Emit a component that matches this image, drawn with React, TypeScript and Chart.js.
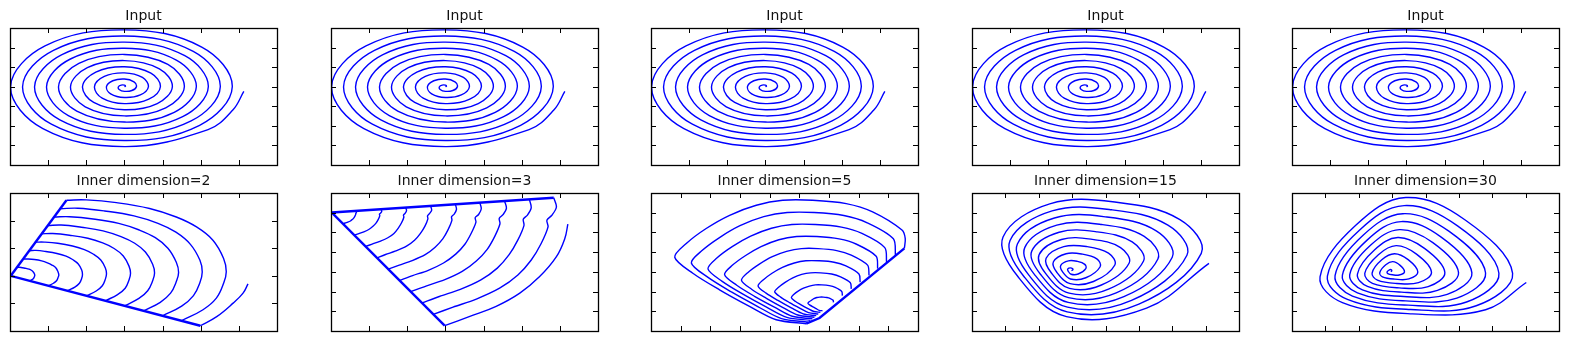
import React, { useEffect, useRef } from "react";
import { Chart, registerables } from "chart.js";

Chart.register(...registerables);

type Pt = [number, number];

// ---------- Input spiral (identical in the 5 top panels) ----------
const INPUT_X_TICKS = [-40, -20, 0, 20, 40, 60];
const INPUT_Y_TICKS = [-60, -40, -20, 0, 20, 40];
const INPUT_SPIRAL: Pt[] = [
  [0, 0], [0.56, 0.56], [0, 1.57], [-1.67, 1.67], [-3.14, 0], [-2.78, -2.78], [0, -4.71], [3.89, -3.89],
  [6.28, 0], [5.0, 5.0], [0, 7.85], [-6.11, 6.11], [-9.42, 0], [-7.22, -7.22], [0, -11.0], [8.33, -8.33],
  [12.57, 0], [9.44, 9.44], [0, 14.14], [-10.55, 10.55], [-15.71, 0], [-11.66, -11.66], [0, -17.28], [12.77, -12.77],
  [18.85, 0], [13.88, 13.88], [0, 20.42], [-15.0, 15.0], [-21.99, 0], [-16.11, -16.11], [0, -23.56], [17.22, -17.22],
  [25.13, 0], [18.33, 18.33], [0, 26.7], [-19.44, 19.44], [-28.27, 0], [-20.55, -20.55], [0, -29.85], [21.66, -21.66],
  [31.42, 0], [22.77, 22.77], [0, 32.99], [-23.88, 23.88], [-34.56, 0], [-24.99, -24.99], [0, -36.13], [26.1, -26.1],
  [37.7, 0], [27.21, 27.21], [0, 39.27], [-28.32, 28.32], [-40.84, 0], [-29.43, -29.43], [0, -42.41], [30.54, -30.54],
  [43.98, 0], [31.65, 31.65], [0, 45.55], [-32.76, 32.76], [-47.12, 0], [-33.87, -33.87], [0, -48.69], [34.98, -34.98],
  [50.27, 0], [36.1, 36.1], [0, 51.84], [-37.21, 37.21], [-53.41, 0], [-38.32, -38.32], [0, -54.98], [39.43, -39.43],
  [56.55, 0], [40.54, 40.54], [0, 58.12], [-41.65, 41.65], [-59.69, 0], [-42.76, -42.76], [0, -61.26], [43.87, -43.87],
  [56.96, -23.59], [62.6, -4.8],
];

// ---------- Inner dimension = 2 ----------
const DIM2_X_TICKS = [1, 2, 3, 4, 5, 6];
const DIM2_Y_TICKS = [1, 2, 3, 4];
const DIM2_EDGES: Pt[][] = [
  [[0.02, 2.0], [1.48, 4.74]],
  [[0.02, 2.0], [4.99, 0.19]],
];
const DIM2_ARCS: Pt[][] = [
  [[0.52, 1.82], [0.58, 1.86], [0.62, 1.91], [0.64, 1.97], [0.65, 2.02], [0.64, 2.07], [0.61, 2.14], [0.56, 2.2], [0.5, 2.24], [0.42, 2.27], [0.33, 2.29], [0.24, 2.31], [0.18, 2.3]],
  [[1.01, 1.64], [1.14, 1.73], [1.22, 1.82], [1.26, 1.94], [1.28, 2.03], [1.26, 2.14], [1.2, 2.29], [1.1, 2.39], [0.98, 2.47], [0.83, 2.54], [0.64, 2.59], [0.46, 2.61], [0.34, 2.61]],
  [[1.51, 1.46], [1.7, 1.59], [1.82, 1.73], [1.88, 1.91], [1.9, 2.05], [1.88, 2.21], [1.79, 2.43], [1.64, 2.59], [1.47, 2.71], [1.23, 2.81], [0.94, 2.88], [0.68, 2.92], [0.51, 2.91]],
  [[2.01, 1.28], [2.26, 1.45], [2.42, 1.64], [2.5, 1.88], [2.53, 2.07], [2.5, 2.28], [2.38, 2.57], [2.18, 2.79], [1.95, 2.95], [1.64, 3.08], [1.25, 3.18], [0.9, 3.22], [0.67, 3.22]],
  [[2.51, 1.1], [2.82, 1.32], [3.02, 1.55], [3.12, 1.85], [3.16, 2.09], [3.12, 2.35], [2.97, 2.72], [2.73, 2.99], [2.43, 3.19], [2.04, 3.36], [1.56, 3.47], [1.12, 3.53], [0.83, 3.52]],
  [[3.0, 0.91], [3.38, 1.18], [3.61, 1.46], [3.74, 1.82], [3.79, 2.1], [3.74, 2.42], [3.55, 2.86], [3.27, 3.18], [2.91, 3.42], [2.44, 3.63], [1.87, 3.76], [1.34, 3.84], [0.99, 3.82]],
  [[3.5, 0.73], [3.94, 1.04], [4.21, 1.37], [4.36, 1.79], [4.42, 2.12], [4.36, 2.49], [4.14, 3.0], [3.81, 3.38], [3.39, 3.66], [2.85, 3.9], [2.18, 4.06], [1.56, 4.14], [1.15, 4.13]],
  [[4.0, 0.55], [4.5, 0.9], [4.81, 1.28], [4.98, 1.76], [5.04, 2.14], [4.98, 2.56], [4.73, 3.14], [4.35, 3.58], [3.88, 3.9], [3.25, 4.17], [2.48, 4.35], [1.78, 4.45], [1.32, 4.43]],
  [[4.49, 0.37], [5.06, 0.77], [5.41, 1.19], [5.6, 1.73], [5.67, 2.15], [5.6, 2.63], [5.32, 3.29], [4.89, 3.77], [4.36, 4.13], [3.66, 4.44], [2.79, 4.65], [2.0, 4.75], [1.48, 4.74]],
];
const DIM2_TAIL: Pt[] = [[4.99, 0.19], [5.42, 0.52], [5.85, 1.01], [6.11, 1.37], [6.24, 1.71]];

// ---------- Inner dimension = 3 ----------
const DIM3_X_TICKS = [1, 2, 3, 4, 5, 6];
const DIM3_Y_TICKS = [1, 2, 3, 4, 5, 6];
const DIM3_EDGES: Pt[][] = [
  [[0.02, 6.01], [5.84, 6.76]],
  [[0.02, 6.01], [2.98, 0.27]],
];
const DIM3_ARCS: Pt[][] = [
  [[0.32, 5.44], [0.37, 5.48], [0.44, 5.52], [0.51, 5.58], [0.56, 5.66], [0.6, 5.74], [0.63, 5.84], [0.65, 5.93], [0.65, 5.97], [0.66, 5.99], [0.67, 6.04], [0.67, 6.09]],
  [[0.61, 4.86], [0.73, 4.94], [0.86, 5.03], [1.0, 5.16], [1.1, 5.31], [1.18, 5.47], [1.24, 5.66], [1.28, 5.85], [1.27, 5.92], [1.3, 5.98], [1.33, 6.07], [1.31, 6.18]],
  [[0.91, 4.29], [1.08, 4.41], [1.28, 4.55], [1.49, 4.73], [1.65, 4.95], [1.76, 5.21], [1.85, 5.49], [1.91, 5.77], [1.9, 5.88], [1.94, 5.96], [1.98, 6.1], [1.96, 6.26]],
  [[1.2, 3.71], [1.43, 3.88], [1.7, 4.06], [1.98, 4.3], [2.19, 4.6], [2.34, 4.94], [2.46, 5.31], [2.54, 5.69], [2.53, 5.84], [2.58, 5.95], [2.64, 6.13], [2.61, 6.34]],
  [[1.5, 3.14], [1.79, 3.34], [2.13, 3.57], [2.47, 3.87], [2.73, 4.25], [2.93, 4.67], [3.07, 5.14], [3.17, 5.61], [3.16, 5.8], [3.23, 5.93], [3.29, 6.17], [3.26, 6.43]],
  [[1.8, 2.57], [2.14, 2.81], [2.55, 3.08], [2.95, 3.45], [3.27, 3.9], [3.51, 4.4], [3.68, 4.97], [3.8, 5.52], [3.78, 5.75], [3.87, 5.91], [3.94, 6.2], [3.9, 6.51]],
  [[2.09, 1.99], [2.49, 2.28], [2.97, 2.59], [3.44, 3.02], [3.81, 3.55], [4.09, 4.13], [4.29, 4.79], [4.43, 5.44], [4.41, 5.71], [4.51, 5.9], [4.6, 6.23], [4.55, 6.59]],
  [[2.39, 1.42], [2.84, 1.75], [3.39, 2.11], [3.93, 2.59], [4.36, 3.19], [4.67, 3.87], [4.9, 4.62], [5.06, 5.36], [5.04, 5.67], [5.15, 5.88], [5.25, 6.26], [5.2, 6.67]],
  [[2.68, 0.84], [3.2, 1.21], [3.81, 1.62], [4.42, 2.17], [4.9, 2.84], [5.25, 3.6], [5.51, 4.44], [5.69, 5.28], [5.66, 5.62], [5.79, 5.87], [5.91, 6.29], [5.84, 6.76]],
];
const DIM3_TAIL: Pt[] = [[2.98, 0.27], [3.64, 0.74], [4.33, 1.25], [4.95, 1.92], [5.47, 2.76], [5.91, 3.77], [6.13, 4.69], [6.21, 5.42]];

// ---------- Inner dimension = 5 ----------
const DIM5_X_TICKS = [1, 2, 3, 4, 5, 6, 7, 8];
const DIM5_Y_TICKS = [1, 2, 3, 4, 5, 6];
const DIM5_EDGE: Pt[] = [[5.23, 0.37], [5.68, 0.66], [8.54, 4.19]];
const DIM5_LOOPS: Pt[][] = [
  [[6.15, 1.45], [6.14, 1.56], [6.03, 1.66], [5.93, 1.7], [5.81, 1.72], [5.69, 1.72], [5.59, 1.7], [5.49, 1.64], [5.41, 1.56], [5.33, 1.48], [5.29, 1.4], [5.36, 1.31], [5.46, 1.22], [5.57, 1.13], [5.67, 1.05], [5.78, 1.03]],
  [[6.45, 1.79], [6.43, 2.0], [6.21, 2.21], [6.01, 2.3], [5.76, 2.34], [5.54, 2.34], [5.34, 2.28], [5.14, 2.17], [4.96, 2.02], [4.81, 1.85], [4.73, 1.69], [4.86, 1.51], [5.06, 1.33], [5.29, 1.14], [5.49, 0.99], [5.71, 0.95]],
  [[6.75, 2.14], [6.72, 2.45], [6.39, 2.75], [6.09, 2.89], [5.72, 2.95], [5.38, 2.95], [5.08, 2.87], [4.78, 2.7], [4.52, 2.47], [4.3, 2.22], [4.17, 1.99], [4.37, 1.72], [4.67, 1.44], [5.01, 1.16], [5.31, 0.93], [5.64, 0.86]],
  [[7.05, 2.48], [7.01, 2.89], [6.57, 3.3], [6.17, 3.49], [5.67, 3.56], [5.22, 3.56], [4.83, 3.45], [4.43, 3.23], [4.08, 2.93], [3.78, 2.59], [3.61, 2.28], [3.88, 1.92], [4.28, 1.55], [4.73, 1.17], [5.13, 0.87], [5.57, 0.78]],
  [[7.35, 2.82], [7.3, 3.34], [6.75, 3.85], [6.26, 4.08], [5.63, 4.18], [5.07, 4.18], [4.57, 4.04], [4.07, 3.76], [3.64, 3.38], [3.26, 2.96], [3.05, 2.57], [3.39, 2.12], [3.89, 1.66], [4.45, 1.19], [4.95, 0.81], [5.51, 0.7]],
  [[7.64, 3.16], [7.59, 3.79], [6.93, 4.4], [6.34, 4.67], [5.59, 4.79], [4.91, 4.79], [4.31, 4.63], [3.71, 4.28], [3.19, 3.83], [2.74, 3.33], [2.48, 2.86], [2.89, 2.32], [3.49, 1.76], [4.16, 1.21], [4.76, 0.75], [5.44, 0.62]],
  [[7.94, 3.5], [7.88, 4.23], [7.11, 4.95], [6.42, 5.27], [5.54, 5.4], [4.75, 5.4], [4.06, 5.21], [3.36, 4.81], [2.75, 4.29], [2.22, 3.7], [1.92, 3.15], [2.4, 2.52], [3.1, 1.87], [3.88, 1.22], [4.58, 0.69], [5.37, 0.54]],
  [[8.24, 3.85], [8.17, 4.68], [7.29, 5.49], [6.5, 5.86], [5.5, 6.01], [4.59, 6.01], [3.8, 5.8], [3.0, 5.34], [2.31, 4.74], [1.71, 4.07], [1.36, 3.45], [1.91, 2.73], [2.71, 1.98], [3.6, 1.24], [4.4, 0.63], [5.3, 0.45]],
  [[8.54, 4.19], [8.57, 4.69], [8.46, 5.12], [7.47, 6.04], [6.58, 6.46], [5.45, 6.63], [4.44, 6.63], [3.55, 6.38], [2.65, 5.87], [1.86, 5.2], [1.19, 4.44], [0.8, 3.74], [1.41, 2.93], [2.31, 2.09], [3.32, 1.25], [4.22, 0.57], [5.23, 0.37]],
];

// ---------- Inner dimension = 15 ----------
const DIM15_X_TICKS = [1, 2, 3, 4, 5, 6, 7];
const DIM15_Y_TICKS = [1, 2, 3, 4, 5, 6];
const DIM15_SPIRAL: Pt[] = [
  [2.98, 3.06], [3.02, 3.1], [3.02, 3.15], [2.95, 3.2], [2.87, 3.15], [2.88, 3.04], [2.97, 2.88], [3.18, 2.89],
  [3.41, 3.16], [3.38, 3.38], [3.16, 3.53], [2.89, 3.56], [2.66, 3.33], [2.71, 3.01], [2.95, 2.64], [3.41, 2.7],
  [3.84, 3.26], [3.74, 3.66], [3.31, 3.9], [2.82, 3.92], [2.44, 3.51], [2.54, 2.98], [2.94, 2.4], [3.64, 2.51],
  [4.28, 3.35], [4.09, 3.95], [3.45, 4.28], [2.75, 4.28], [2.22, 3.69], [2.38, 2.94], [2.92, 2.16], [3.86, 2.32],
  [4.71, 3.45], [4.45, 4.23], [3.6, 4.65], [2.68, 4.64], [2.01, 3.87], [2.21, 2.91], [2.91, 1.92], [4.09, 2.12],
  [5.14, 3.55], [4.8, 4.52], [3.75, 5.03], [2.61, 5.01], [1.79, 4.05], [2.05, 2.88], [2.89, 1.69], [4.32, 1.93],
  [5.57, 3.65], [5.16, 4.8], [3.89, 5.4], [2.54, 5.37], [1.58, 4.23], [1.88, 2.85], [2.88, 1.45], [4.55, 1.74],
  [6.0, 3.74], [5.52, 5.08], [4.04, 5.78], [2.47, 5.73], [1.36, 4.41], [1.71, 2.82], [2.86, 1.21], [4.78, 1.55],
  [6.44, 3.84], [5.87, 5.37], [4.18, 6.15], [2.4, 6.09], [1.14, 4.59], [1.55, 2.78], [2.85, 0.97], [5.0, 1.36],
  [6.87, 3.94], [6.23, 5.65], [4.33, 6.53], [2.33, 6.45], [0.93, 4.77], [1.38, 2.75], [2.83, 0.73], [5.23, 1.16],
  [7.1, 3.43],
];

// ---------- Inner dimension = 30 ----------
const DIM30_X_TICKS = [1, 2, 3, 4, 5, 6, 7];
const DIM30_Y_TICKS = [1, 2, 3, 4, 5, 6];
const DIM30_SPIRAL: Pt[] = [
  [2.96, 3.01], [2.99, 3.05], [2.97, 3.11], [2.92, 3.1], [2.85, 3.0], [2.87, 2.91], [3.01, 2.85], [3.21, 2.84],
  [3.37, 3.0], [3.24, 3.33], [3.02, 3.52], [2.81, 3.36], [2.63, 2.97], [2.71, 2.75], [3.08, 2.63], [3.5, 2.64],
  [3.77, 2.99], [3.48, 3.62], [3.07, 3.92], [2.69, 3.61], [2.4, 2.94], [2.56, 2.58], [3.14, 2.41], [3.79, 2.45],
  [4.18, 2.98], [3.73, 3.9], [3.12, 4.33], [2.58, 3.86], [2.18, 2.92], [2.41, 2.42], [3.21, 2.19], [4.08, 2.25],
  [4.58, 2.97], [3.97, 4.19], [3.17, 4.74], [2.47, 4.11], [1.96, 2.89], [2.26, 2.26], [3.28, 1.97], [4.36, 2.06],
  [4.99, 2.96], [4.22, 4.48], [3.22, 5.14], [2.36, 4.36], [1.73, 2.86], [2.11, 2.09], [3.35, 1.75], [4.65, 1.86],
  [5.39, 2.95], [4.47, 4.76], [3.27, 5.55], [2.25, 4.61], [1.51, 2.83], [1.96, 1.93], [3.41, 1.53], [4.94, 1.67],
  [5.8, 2.94], [4.71, 5.05], [3.32, 5.95], [2.13, 4.86], [1.29, 2.81], [1.81, 1.77], [3.48, 1.31], [5.23, 1.47],
  [6.2, 2.93], [4.96, 5.33], [3.36, 6.36], [2.02, 5.11], [1.06, 2.78], [1.66, 1.6], [3.55, 1.09], [5.52, 1.28],
  [6.61, 2.92], [5.2, 5.62], [3.41, 6.77], [1.91, 5.36], [0.84, 2.75], [1.51, 1.44], [3.61, 0.87], [5.8, 1.08],
  [7.02, 2.46],
];

// ---------- layout ----------
const BLUE = "#0000ff";
const PANEL_LEFTS = [10, 331, 651, 972, 1292];
const ROW_TOPS = [28, 193];
const AX_W = 267;
const AX_H = [137, 138];
const PAD = 3;
const TITLE_H = 21;

interface Curve { pts: Pt[]; width: number; tension: number }
interface Spec {
  title: string;
  x: [number, number];
  y: [number, number];
  xTicks: number[];
  yTicks: number[];
  curves: Curve[];
}

const thin = (pts: Pt[], tension = 0.4): Curve => ({ pts, width: 1.4, tension });
const edge = (pts: Pt[]): Curve => ({ pts, width: 2.4, tension: 0 });

const INPUT_SPEC: Spec = {
  title: "Input", x: [-60, 80], y: [-80, 60], xTicks: INPUT_X_TICKS, yTicks: INPUT_Y_TICKS,
  curves: [thin(INPUT_SPIRAL, 0.38)],
};

const BOTTOM_SPECS: Spec[] = [
  {
    title: "Inner dimension=2", x: [0, 7], y: [0, 5], xTicks: DIM2_X_TICKS, yTicks: DIM2_Y_TICKS,
    curves: [...DIM2_EDGES.map(edge), ...DIM2_ARCS.map((a) => thin(a)), thin(DIM2_TAIL)],
  },
  {
    title: "Inner dimension=3", x: [0, 7], y: [0, 7], xTicks: DIM3_X_TICKS, yTicks: DIM3_Y_TICKS,
    curves: [...DIM3_EDGES.map(edge), ...DIM3_ARCS.map((a) => thin(a, 0.3)), thin(DIM3_TAIL)],
  },
  {
    title: "Inner dimension=5", x: [0, 9], y: [0, 7], xTicks: DIM5_X_TICKS, yTicks: DIM5_Y_TICKS,
    curves: [edge(DIM5_EDGE), ...DIM5_LOOPS.map((l) => thin(l, 0.3))],
  },
  {
    title: "Inner dimension=15", x: [0, 8], y: [0, 7], xTicks: DIM15_X_TICKS, yTicks: DIM15_Y_TICKS,
    curves: [thin(DIM15_SPIRAL, 0.38)],
  },
  {
    title: "Inner dimension=30", x: [0, 8], y: [0, 7], xTicks: DIM30_X_TICKS, yTicks: DIM30_Y_TICKS,
    curves: [thin(DIM30_SPIRAL, 0.38)],
  },
];

const framePlugin = {
  id: "frame",
  afterDraw(chart: any, _args: any, opts: any) {
    const { ctx, chartArea: a, scales } = chart;
    const sx = scales.x;
    const sy = scales.y;
    const tl = 5;
    ctx.save();
    ctx.strokeStyle = "#000";
    ctx.lineWidth = 1;
    ctx.beginPath();
    for (const v of opts.xTicks as number[]) {
      const px = Math.round(sx.getPixelForValue(v)) + 0.5;
      ctx.moveTo(px, a.bottom);
      ctx.lineTo(px, a.bottom - tl);
      ctx.moveTo(px, a.top);
      ctx.lineTo(px, a.top + tl);
    }
    for (const v of opts.yTicks as number[]) {
      const py = Math.round(sy.getPixelForValue(v)) + 0.5;
      ctx.moveTo(a.left, py);
      ctx.lineTo(a.left + tl, py);
      ctx.moveTo(a.right, py);
      ctx.lineTo(a.right - tl, py);
    }
    ctx.stroke();
    ctx.lineWidth = 1.3;
    ctx.strokeRect(a.left + 0.5, a.top + 0.5, a.right - a.left, a.bottom - a.top);
    ctx.restore();
  },
};

function Panel({ spec, left, top, axH }: { spec: Spec; left: number; top: number; axH: number }) {
  const ref = useRef<HTMLCanvasElement>(null);
  useEffect(() => {
    const canvas = ref.current;
    if (!canvas) return;
    const chart = new Chart(canvas, {
      type: "scatter",
      data: {
        datasets: spec.curves.map((c) => ({
          data: c.pts.map(([x, y]) => ({ x, y })),
          showLine: true,
          borderColor: BLUE,
          backgroundColor: BLUE,
          borderWidth: c.width,
          pointRadius: 0,
          tension: c.tension,
          fill: false,
        })),
      },
      options: {
        responsive: false,
        animation: false,
        devicePixelRatio: 1,
        events: [],
        layout: { padding: { left: PAD, right: PAD, top: 0, bottom: PAD } },
        scales: {
          x: { type: "linear", min: spec.x[0], max: spec.x[1], display: false },
          y: { type: "linear", min: spec.y[0], max: spec.y[1], display: false },
        },
        plugins: {
          legend: { display: false },
          tooltip: { enabled: false },
          title: {
            display: true,
            text: spec.title,
            color: "#111",
            font: { family: "'DejaVu Sans', sans-serif", size: 14, weight: "normal", lineHeight: "17px" },
            padding: { top: 1, bottom: 3 },
          },
          frame: { xTicks: spec.xTicks, yTicks: spec.yTicks },
        } as any,
      },
      plugins: [framePlugin],
    } as any);
    return () => chart.destroy();
  }, [spec]);
  const w = AX_W + 2 * PAD;
  const h = TITLE_H + axH + PAD;
  return (
    <canvas
      ref={ref}
      width={w}
      height={h}
      style={{ position: "absolute", left: left - PAD, top: top - TITLE_H, width: w, height: h }}
    />
  );
}

export default function App() {
  return (
    <div style={{ position: "absolute", left: 0, top: 0, width: 1570, height: 341, background: "#fff", overflow: "hidden" }}>
      {PANEL_LEFTS.map((l, i) => (
        <Panel key={"in" + i} spec={INPUT_SPEC} left={l} top={ROW_TOPS[0]} axH={AX_H[0]} />
      ))}
      {BOTTOM_SPECS.map((s, i) => (
        <Panel key={"dim" + i} spec={s} left={PANEL_LEFTS[i]} top={ROW_TOPS[1]} axH={AX_H[1]} />
      ))}
    </div>
  );
}
